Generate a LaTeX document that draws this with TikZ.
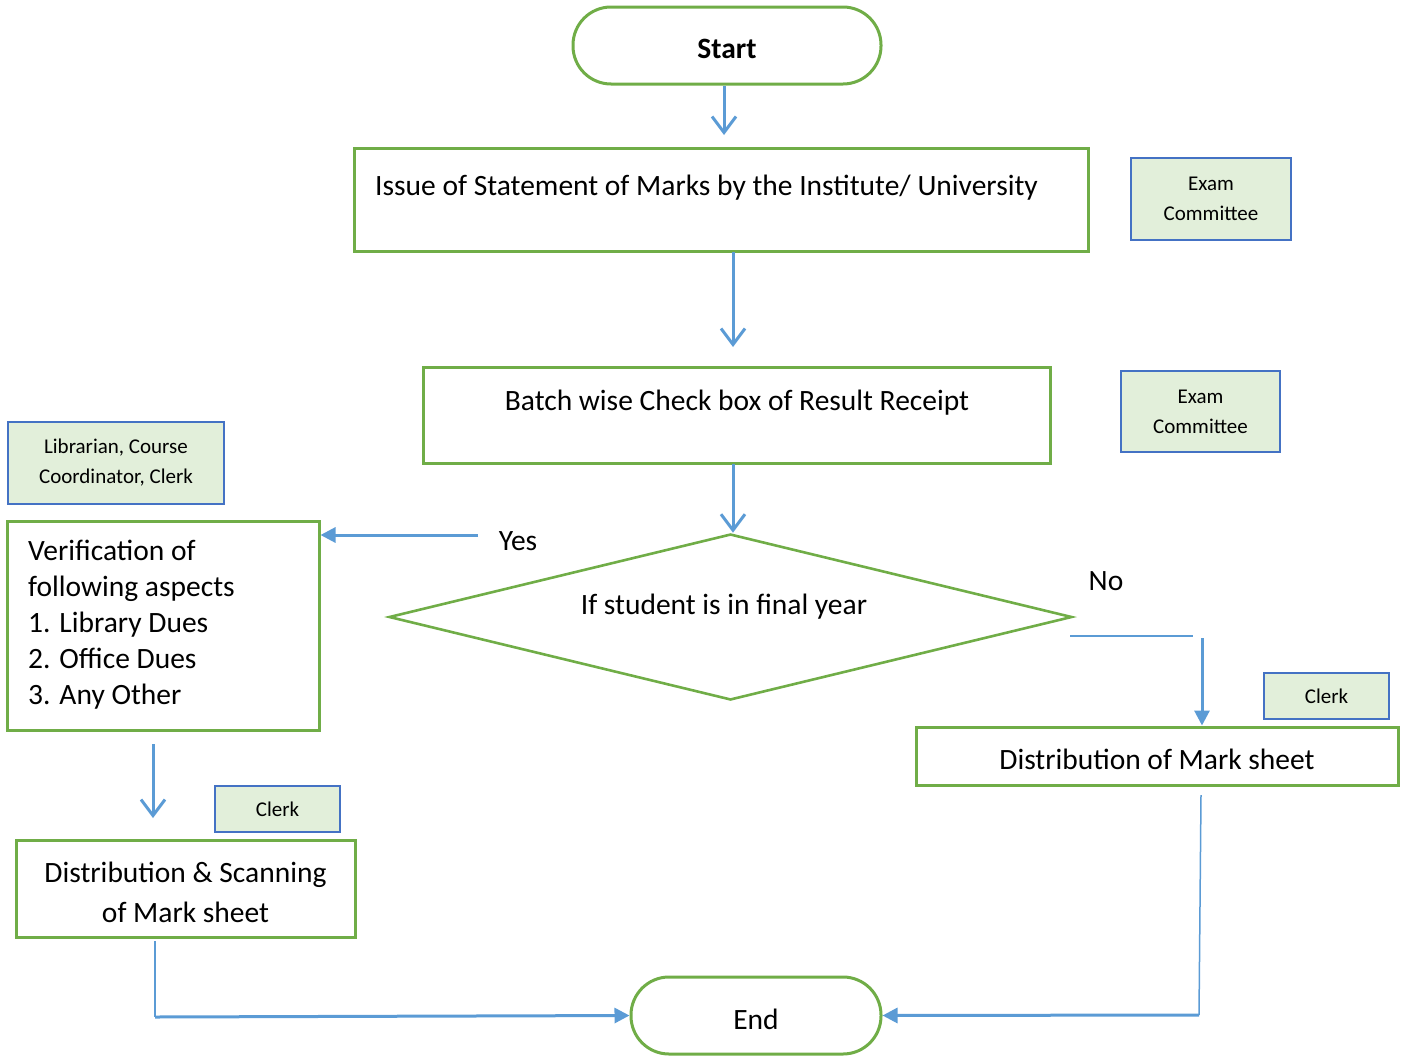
\documentclass[tikz,border=0pt]{standalone}
\usepackage{fontspec}
\setmainfont{Carlito}
\usetikzlibrary{arrows.meta,shapes.geometric}
\definecolor{grn}{HTML}{70AD47}
\definecolor{blu}{HTML}{5B9BD5}
\definecolor{lblu}{HTML}{4472C4}
\definecolor{lfill}{HTML}{E2EFDA}
\begin{document}
\begin{tikzpicture}[x=1pt,y=-1pt,
  termbox/.style={draw=grn,line width=3pt,rounded corners=38pt,inner sep=0},
  procbox/.style={draw=grn,line width=3pt,inner sep=0},
  rolebox/.style={draw=lblu,fill=lfill,line width=1.5pt,inner sep=0,align=center,font=\fontsize{21}{30}\selectfont},
  txt/.style={inner sep=0,font=\fontsize{29.5}{36}\selectfont},
  openarr/.style={draw=blu,line width=3pt,-{Straight Barb[length=16pt,width=24pt,line width=3pt]}},
  fillarr/.style={draw=blu,line width=3pt,-{Triangle[length=15pt,width=15pt]}},
  thinline/.style={draw=blu,line width=1.5pt}
]
\useasboundingbox (0,0) rectangle (1402,1055);
% terminals
\node[termbox,minimum width=308,minimum height=77] (start) at (727,45.5) {};
\node[txt,font=\fontsize{29.5}{36}\selectfont\bfseries] (starttxt) at (727,49) {Start};
\node[termbox,minimum width=250,minimum height=77] (end) at (756,1015.5) {};
\node[txt] (endtxt) at (756,1019) {End};
% process boxes
\node[procbox,minimum width=734,minimum height=103] (box1) at (721,199.5) {};
\node[txt,anchor=west] (t1) at (375,187.5) {Issue of Statement of Marks by the Institute/ University};
\node[procbox,minimum width=627,minimum height=96] (box2) at (736.5,415) {};
\node[txt] (t2) at (737,403) {Batch wise Check box of Result Receipt};
\node[draw=grn,line width=2.6pt,diamond,minimum width=683,minimum height=166,inner sep=0] (dec) at (730.5,617) {};
\node[txt] (t3) at (724,607) {If student is in final year};
\node[procbox,minimum width=312,minimum height=209] (ver) at (163,625.5) {};
\node[txt,align=left,anchor=north west] (vt) at (28,540) {Verification of\\following aspects\\1. Library Dues\\2. Office Dues\\3. Any Other};
\node[procbox,minimum width=482,minimum height=58] (d2) at (1157,756) {};
\node[txt] (d2t) at (1157,759) {Distribution of Mark sheet};
\node[procbox,minimum width=339,minimum height=97] (d1) at (185.5,888.5) {};
\node[txt,align=center,font=\fontsize{29.5}{40}\selectfont] (d1t) at (185.5,892) {Distribution \& Scanning\\of Mark sheet};
% role boxes
\node[rolebox,minimum width=160,minimum height=82] (r1) at (1211,199) {Exam\\Committee};
\node[rolebox,minimum width=159,minimum height=81] (r2) at (1200.5,411.5) {Exam\\Committee};
\node[rolebox,minimum width=216,minimum height=82] (r3) at (116,463) {Librarian, Course\\Coordinator, Clerk};
\node[rolebox,minimum width=125,minimum height=46] (r4) at (1326.5,696) {Clerk};
\node[rolebox,minimum width=125,minimum height=46] (r5) at (277.5,809) {Clerk};
% labels
\node[txt] (yes) at (518,541) {Yes};
\node[txt] (no) at (1106,581) {No};
% connector points
\coordinate (a1s) at (724,86);  \coordinate (a1e) at (724,135);
\coordinate (a2s) at (733,252); \coordinate (a2e) at (733,347);
\coordinate (a3s) at (733,464);
\coordinate (yesS) at (478,535);
\coordinate (noA) at (1070,636); \coordinate (noB) at (1193,636);
\coordinate (noV) at (1202,638);
\coordinate (lvS) at (153,744); \coordinate (lvE) at (153,818);
\coordinate (blA) at (155,941); \coordinate (blB) at (155,1017);
\coordinate (brA) at (1201,795); \coordinate (brB) at (1199,1015);
% connectors
\draw[openarr] (a1s) -- (a1e);
\draw[openarr] (a2s) -- (a2e);
\draw[openarr] (a3s) -- (a3s |- dec.north);
\draw[fillarr] (yesS) -- (yesS -| ver.east);
\draw[thinline] (noA) -- (noB);
\draw[fillarr] (noV) -- (noV |- d2.north);
\draw[openarr] (lvS) -- (lvE);
\draw[thinline] (blA) -- (blB);
\draw[fillarr] (blB) -- (end.west);
\draw[thinline] (brA) -- (brB);
\draw[fillarr] (brB) -- (end.east);
\end{tikzpicture}
\end{document}
